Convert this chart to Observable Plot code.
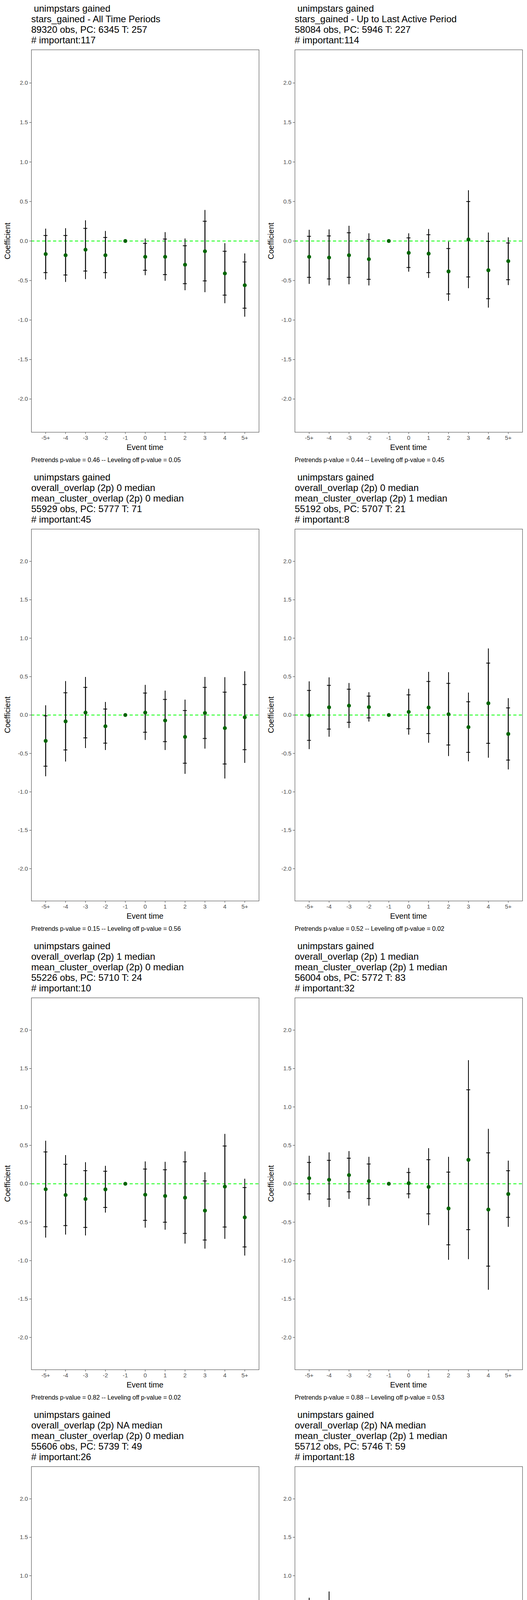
<!DOCTYPE html>
<html>
<head>
<meta charset="utf-8">
<script src="https://cdn.jsdelivr.net/npm/d3@7"></script>
<script src="https://cdn.jsdelivr.net/npm/@observablehq/plot@0.6"></script>
<style>
  body { margin: 0; background: #fff; font-family: "Liberation Sans", Arial, sans-serif; }
  #grid { display: grid; grid-template-columns: 675px 675px; width: 1350px; }
  .cell { position: relative; width: 675px; height: 1200px; overflow: hidden; }
  .title { position: absolute; left: 80px; top: 8px; font-size: 24px; line-height: 27px; white-space: pre; color: #000; }
  .caption { position: absolute; left: 80px; top: 1169px; font-size: 16px; color: #000; white-space: pre; }
  .xlab { position: absolute; left: 80px; width: 583px; top: 1134px; text-align: center; font-size: 20px; }
  .ylab { position: absolute; left: 4px; width: 30px; font-size: 20px; writing-mode: vertical-rl; transform: rotate(180deg); text-align: center; line-height: 30px; }
</style>
</head>
<body>
<div id="grid"></div>
<script>
const eventTimes = ["-5+", "-4", "-3", "-2", "-1", "0", "1", "2", "3", "4", "5+"];

const titles = [
  [" unimpstars gained", "stars_gained - All Time Periods", "89320 obs, PC: 6345 T: 257", "# important:117"],
  [" unimpstars gained", "stars_gained - Up to Last Active Period", "58084 obs, PC: 5946 T: 227", "# important:114"],
  [" unimpstars gained", "overall_overlap (2p) 0 median", "mean_cluster_overlap (2p) 0 median", "55929 obs, PC: 5777 T: 71", "# important:45"],
  [" unimpstars gained", "overall_overlap (2p) 0 median", "mean_cluster_overlap (2p) 1 median", "55192 obs, PC: 5707 T: 21", "# important:8"],
  [" unimpstars gained", "overall_overlap (2p) 1 median", "mean_cluster_overlap (2p) 0 median", "55226 obs, PC: 5710 T: 24", "# important:10"],
  [" unimpstars gained", "overall_overlap (2p) 1 median", "mean_cluster_overlap (2p) 1 median", "56004 obs, PC: 5772 T: 83", "# important:32"],
  [" unimpstars gained", "overall_overlap (2p) NA median", "mean_cluster_overlap (2p) 0 median", "55606 obs, PC: 5739 T: 49", "# important:26"],
  [" unimpstars gained", "overall_overlap (2p) NA median", "mean_cluster_overlap (2p) 1 median", "55712 obs, PC: 5746 T: 59", "# important:18"]
];

const pretrends = ["0.46", "0.44", "0.15", "0.52", "0.82", "0.88", "0.59", "0.31"];
const levelingOff = ["0.05", "0.45", "0.56", "0.02", "0.02", "0.53", "0.01", "0.48"];

const coef = [
  [-0.165, -0.18, -0.11, -0.18, 0, -0.20, -0.20, -0.30, -0.13, -0.41, -0.56],
  [-0.20, -0.21, -0.18, -0.23, 0, -0.15, -0.16, -0.385, 0.02, -0.37, -0.255],
  [-0.337, -0.083, 0.032, -0.146, 0, 0.032, -0.071, -0.285, 0.027, -0.17, -0.029],
  [-0.005, 0.10, 0.122, 0.103, 0, 0.041, 0.098, 0.01, -0.158, 0.153, -0.246],
  [-0.071, -0.146, -0.198, -0.073, 0, -0.142, -0.159, -0.181, -0.349, -0.037, -0.437],
  [0.072, 0.052, 0.113, 0.034, 0, 0.007, -0.041, -0.321, 0.312, -0.335, -0.133],
  [-0.327, -0.298, -0.33, -0.353, 0, -0.258, -0.227, -0.336, -0.422, -0.356, -0.705],
  [-0.188, -0.169, -0.273, -0.329, 0, -0.314, -0.275, -0.283, -0.359, -0.331, -0.405]
];

// inner interval (marked with small ticks)
const innerLo = [
  [-0.40, -0.43, -0.38, -0.40, null, -0.37, -0.425, -0.54, -0.505, -0.685, -0.85],
  [-0.46, -0.48, -0.46, -0.485, null, -0.335, -0.40, -0.67, -0.455, -0.73, -0.49],
  [-0.666, -0.454, -0.297, -0.366, null, -0.224, -0.346, -0.627, -0.305, -0.637, -0.451],
  [-0.33, -0.183, -0.095, -0.037, null, -0.178, -0.241, -0.39, -0.486, -0.368, -0.586],
  [-0.559, -0.544, -0.568, -0.308, null, -0.476, -0.50, -0.646, -0.732, -0.563, -0.822],
  [-0.131, -0.199, -0.104, -0.192, null, -0.131, -0.391, -0.794, -0.597, -1.072, -0.437],
  [-0.769, -0.739, -0.91, -0.895, null, -0.649, -0.653, -0.81, -0.886, -0.881, -1.149],
  [-0.949, -0.98, -1.037, -1.042, null, -0.819, -0.808, -0.814, -0.941, -0.878, -0.942]
];
const innerHi = [
  [0.07, 0.07, 0.16, 0.045, null, -0.03, 0.025, -0.06, 0.25, -0.13, -0.265],
  [0.06, 0.065, 0.105, 0.02, null, 0.04, 0.08, -0.095, 0.50, -0.005, -0.025],
  [-0.01, 0.29, 0.36, 0.078, null, 0.286, 0.203, 0.059, 0.36, 0.298, 0.397],
  [0.32, 0.386, 0.336, 0.246, null, 0.263, 0.437, 0.412, 0.173, 0.676, 0.093],
  [0.415, 0.254, 0.171, 0.163, null, 0.192, 0.183, 0.286, 0.037, 0.492, -0.049],
  [0.278, 0.305, 0.333, 0.258, null, 0.147, 0.314, 0.152, 1.224, 0.403, 0.17],
  [0.12, 0.147, 0.253, 0.193, null, 0.136, 0.202, 0.139, 0.044, 0.175, -0.256],
  [0.571, 0.642, 0.495, 0.386, null, 0.192, 0.259, 0.249, 0.224, 0.219, 0.132]
];
// outer interval (line ends)
const outerLo = [
  [-0.49, -0.52, -0.485, -0.48, null, -0.435, -0.505, -0.625, -0.65, -0.79, -0.96],
  [-0.545, -0.565, -0.55, -0.565, null, -0.39, -0.47, -0.76, -0.60, -0.845, -0.56],
  [-0.80, -0.607, -0.432, -0.458, null, -0.327, -0.458, -0.768, -0.44, -0.829, -0.625],
  [-0.446, -0.285, -0.171, -0.088, null, -0.258, -0.364, -0.536, -0.605, -0.558, -0.71],
  [-0.703, -0.663, -0.675, -0.378, null, -0.573, -0.60, -0.781, -0.847, -0.719, -0.937],
  [-0.217, -0.305, -0.199, -0.287, null, -0.192, -0.541, -0.991, -0.984, -1.382, -0.563],
  [-0.886, -0.856, -1.061, -1.039, null, -0.754, -0.766, -0.934, -1.01, -1.019, -1.27],
  [-1.09, -1.129, -1.18, -1.173, null, -0.912, -0.908, -0.912, -1.051, -0.98, -1.042]
];
const outerHi = [
  [0.155, 0.16, 0.26, 0.125, null, 0.03, 0.11, 0.03, 0.39, -0.03, -0.16],
  [0.14, 0.145, 0.19, 0.095, null, 0.095, 0.15, -0.01, 0.64, 0.105, 0.045],
  [0.125, 0.44, 0.493, 0.168, null, 0.39, 0.315, 0.198, 0.493, 0.49, 0.568],
  [0.436, 0.488, 0.414, 0.295, null, 0.339, 0.559, 0.556, 0.29, 0.864, 0.217],
  [0.558, 0.371, 0.278, 0.231, null, 0.288, 0.283, 0.42, 0.149, 0.647, 0.064],
  [0.362, 0.407, 0.423, 0.348, null, 0.204, 0.462, 0.348, 1.606, 0.713, 0.299],
  [0.236, 0.263, 0.405, 0.334, null, 0.237, 0.312, 0.263, 0.168, 0.31, -0.141],
  [0.71, 0.792, 0.636, 0.517, null, 0.285, 0.358, 0.347, 0.331, 0.32, 0.232]
];

const yTicks = [-2, -1.5, -1, -0.5, 0, 0.5, 1, 1.5, 2];

function drawPanel(i) {
  const cell = d3.select("#grid").append("div").attr("class", "cell");
  cell.append("div").attr("class", "title").text(titles[i].join("\n"));

  const data = eventTimes.map((t, j) => ({
    t, coef: coef[i][j],
    inLo: innerLo[i][j], inHi: innerHi[i][j],
    outLo: outerLo[i][j], outHi: outerHi[i][j]
  }));
  const bars = data.filter(d => d.outLo != null);

  // box top sits below the title block
  const boxTop = 19 + 27 * titles[i].length;
  const boxH = 1106 - boxTop;
  const mt = 1;

  const plot = Plot.plot({
    width: 675,
    height: boxH + mt + 30,
    marginLeft: 80,
    marginRight: 12,
    marginTop: mt,
    marginBottom: 30,
    style: { fontFamily: "Liberation Sans, Arial, sans-serif", fontSize: "15px", background: "white" },
    x: { type: "band", domain: eventTimes, paddingInner: 0, paddingOuter: 0.115, label: null, tickSize: 5 },
    y: { domain: [-2.42, 2.42], ticks: yTicks, tickFormat: d => d.toFixed(1), label: null, tickSize: 5 },
    marks: [
      Plot.ruleY([0], { stroke: "#00ff00", strokeWidth: 2, strokeDasharray: "8,6" }),
      Plot.ruleX(bars, { x: "t", y1: "outLo", y2: "outHi", stroke: "black", strokeWidth: 2 }),
      Plot.ruleX(bars, { x: "t", y1: "inLo", y2: "inHi", stroke: "black", strokeWidth: 2.5 }),
      Plot.tickY(bars, { x: "t", y: "inLo", stroke: "black", strokeWidth: 2, insetLeft: 20.5, insetRight: 20.5 }),
      Plot.tickY(bars, { x: "t", y: "inHi", stroke: "black", strokeWidth: 2, insetLeft: 20.5, insetRight: 20.5 }),
      Plot.dot(data, { x: "t", y: "coef", r: 5, fill: "#006400" }),
      Plot.frame({ stroke: "#555", strokeWidth: 1.2 })
    ]
  });

  d3.select(plot).style("position", "absolute").style("top", (boxTop - mt) + "px").style("left", "0px");
  d3.select(plot).selectAll("g[aria-label='y-axis tick label'] text, g[aria-label='x-axis tick label'] text")
    .attr("fill", "#4d4d4d");
  d3.select(plot).selectAll("g[aria-label='y-axis tick'], g[aria-label='x-axis tick']")
    .attr("stroke", "#333");
  cell.append(() => plot);

  cell.append("div").attr("class", "ylab")
    .style("top", boxTop + "px").style("height", boxH + "px").text("Coefficient");
  cell.append("div").attr("class", "xlab").text("Event time");
  cell.append("div").attr("class", "caption")
    .text(`Pretrends p-value = ${pretrends[i]} -- Leveling off p-value = ${levelingOff[i]}`);
}

for (let i = 0; i < titles.length; i++) drawPanel(i);
</script>
</body>
</html>
